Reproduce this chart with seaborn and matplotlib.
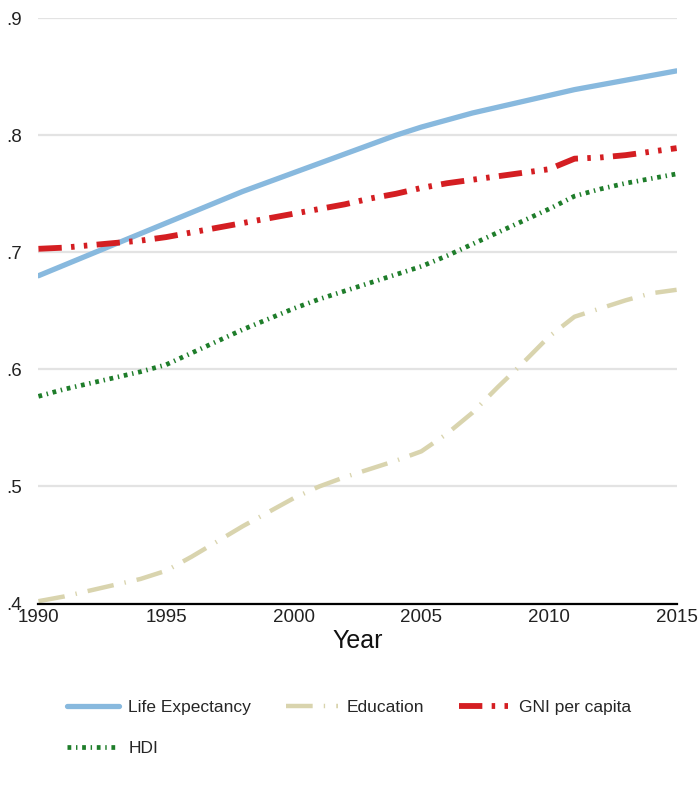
import seaborn as sns
import pandas as pd
import matplotlib.pyplot as plt

# HDI components
years = list(range(1990, 2016))
life_expectancy = [0.680, 0.689, 0.698, 0.707, 0.716, 0.725, 0.734, 0.743, 0.752, 0.760,
                   0.768, 0.776, 0.784, 0.792, 0.800, 0.807, 0.813, 0.819, 0.824, 0.829,
                   0.834, 0.839, 0.843, 0.847, 0.851, 0.855]
education = [0.402, 0.406, 0.411, 0.416, 0.421, 0.428, 0.440, 0.453, 0.466, 0.478,
             0.490, 0.500, 0.508, 0.515, 0.522, 0.530, 0.545, 0.563, 0.585, 0.606,
             0.628, 0.645, 0.652, 0.659, 0.665, 0.668]
gni_per_capita = [0.703, 0.704, 0.706, 0.708, 0.710, 0.713, 0.717, 0.721, 0.725, 0.729,
                  0.733, 0.737, 0.741, 0.746, 0.750, 0.755, 0.759, 0.762, 0.765, 0.768,
                  0.771, 0.780, 0.781, 0.783, 0.786, 0.789]
hdi = [0.577, 0.583, 0.588, 0.593, 0.598, 0.604, 0.614, 0.624, 0.634, 0.643,
       0.652, 0.660, 0.667, 0.674, 0.681, 0.688, 0.697, 0.707, 0.717, 0.727,
       0.737, 0.748, 0.754, 0.759, 0.763, 0.767]

y_ticks = [0.4, 0.5, 0.6, 0.7, 0.8, 0.9]
y_tick_labels = ['.4', '.5', '.6', '.7', '.8', '.9']
x_ticks = [1990, 1995, 2000, 2005, 2010, 2015]

df = pd.DataFrame({'Year': years,
                   'Life Expectancy': life_expectancy,
                   'Education': education,
                   'GNI per capita': gni_per_capita,
                   'HDI': hdi})

sns.set_style('white')
plt.rcParams['font.family'] = ['Liberation Sans', 'DejaVu Sans']

# series -> (colour, width, dash pattern)
styles = {
    'Life Expectancy': ('#88B9DE', 3.8, '-'),
    'Education': ('#D9D4AE', 3.2, (0, (6, 2.5, 0.3, 2.5))),
    'GNI per capita': ('#D41E22', 4.2, (0, (4, 1.6, 0.6, 1.6, 0.6, 1.6))),
    'HDI': ('#1E7D2A', 3.4, (0, (0.8, 1.0, 0.3, 1.0))),
}

fig, ax = plt.subplots(figsize=(6.99, 7.91), dpi=100)
fig.subplots_adjust(left=0.055, right=0.968, top=0.977, bottom=0.237)

ax.grid(axis='y', color='#E3E3E3', linewidth=1.6)
ax.set_axisbelow(True)

for name, (color, lw, ls) in styles.items():
    sns.lineplot(data=df, x='Year', y=name, ax=ax, color=color, linewidth=lw,
                 linestyle=ls, label=name, dash_capstyle='butt')

ax.set_xlim(1990, 2015)
ax.set_ylim(0.4, 0.9)
ax.set_xticks(x_ticks)
ax.set_xticklabels([str(x) for x in x_ticks], fontsize=13.5, color='#222222')
ax.set_yticks(y_ticks)
ax.set_yticklabels(y_tick_labels, fontsize=13.5, color='#222222')
ax.set_xlabel('Year', fontsize=18, labelpad=2, color='#111111')
ax.set_ylabel('')

for side in ['top', 'right', 'left']:
    ax.spines[side].set_visible(False)
ax.spines['bottom'].set_color('black')
ax.spines['bottom'].set_linewidth(1.6)
ax.tick_params(axis='x', direction='in', length=7, width=1, color='#555555', pad=4)
ax.tick_params(axis='y', length=0, pad=12)

# row-wise legend order: Life Expectancy, Education, GNI per capita / HDI
handles, labels = ax.get_legend_handles_labels()
order = [0, 3, 1, 2]
ax.legend([handles[i] for i in order], [labels[i] for i in order],
          loc='upper center', bbox_to_anchor=(0.5, 0.135), bbox_transform=fig.transFigure,
          ncol=3, frameon=False, fontsize=12.5, handlelength=3.0, columnspacing=2.0,
          handletextpad=0.5, labelspacing=1.5)

fig.savefig('out.png', dpi=100, facecolor='white')
